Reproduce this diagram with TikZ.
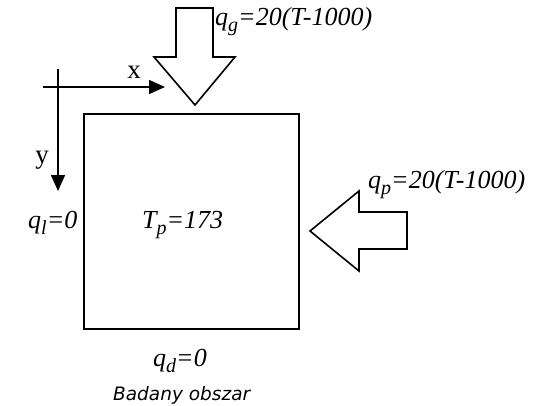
\documentclass[tikz,border=0pt]{standalone}
\usepackage{fontspec}
\setmainfont{Liberation Serif}
\newfontfamily\captionfont{DejaVu Sans}
\usetikzlibrary{arrows.meta}
\newcommand{\lowsub}[1]{\raisebox{-0.25em}{\fontsize{20}{20}\selectfont #1}}
\tikzset{
  wall/.style={line width=1.6pt},
  blockarrow/.style={line width=1.6pt, line join=miter, fill=white},
  axis/.style={line width=1.6pt, -{Triangle[length=16pt,width=14pt]}},
  eqlabel/.style={font=\fontsize{26}{26}\selectfont\itshape, inner sep=0pt},
  axlabel/.style={font=\fontsize{27}{27}\selectfont, inner sep=0pt}
}
\begin{document}
\begin{tikzpicture}[x=1pt, y=-1pt]
\useasboundingbox (0,0) rectangle (533,405);
% investigated region
\draw[wall] (84,114) rectangle (299,329);
% coordinate axes
\coordinate (ax0) at (43,87);
\coordinate (axx) at (165,87);
\coordinate (ay0) at (58,69);
\coordinate (ayy) at (58,191);
\draw[axis] (ax0) -- (axx);
\draw[axis] (ay0) -- (ayy);
\node[axlabel, anchor=base] (xlab) at (134,78) {x};
\node[axlabel, anchor=base] (ylab) at (42,163) {y};
% heat flux arrows: top (q_g) and right (q_p)
\draw[blockarrow] (176,8) -- (213,8) -- (213,57) -- (235,57) -- (195,105) -- (154,57) -- (176,57) -- cycle;
\draw[blockarrow] (407,212) -- (359,212) -- (359,191) -- (310,231) -- (359,271) -- (359,249) -- (407,249) -- cycle;
% boundary conditions
\node[eqlabel, anchor=base west] (qg) at (215,25) {q\lowsub{g}=20(T-1000)};
\node[eqlabel, anchor=base west] (qp) at (368,188) {q\lowsub{p}=20(T-1000)};
\node[eqlabel, anchor=base west] (ql) at (28,228) {q\lowsub{l}=0};
\node[eqlabel, anchor=base west] (tp) at (142,228) {T\lowsub{p}=173};
\node[eqlabel, anchor=base west] (qd) at (153,366) {q\lowsub{d}=0};
\node[font=\fontsize{18.5}{18.5}\selectfont\captionfont\itshape, inner sep=0pt, anchor=base west] (cap) at (113,400) {Badany obszar};
\end{tikzpicture}
\end{document}
